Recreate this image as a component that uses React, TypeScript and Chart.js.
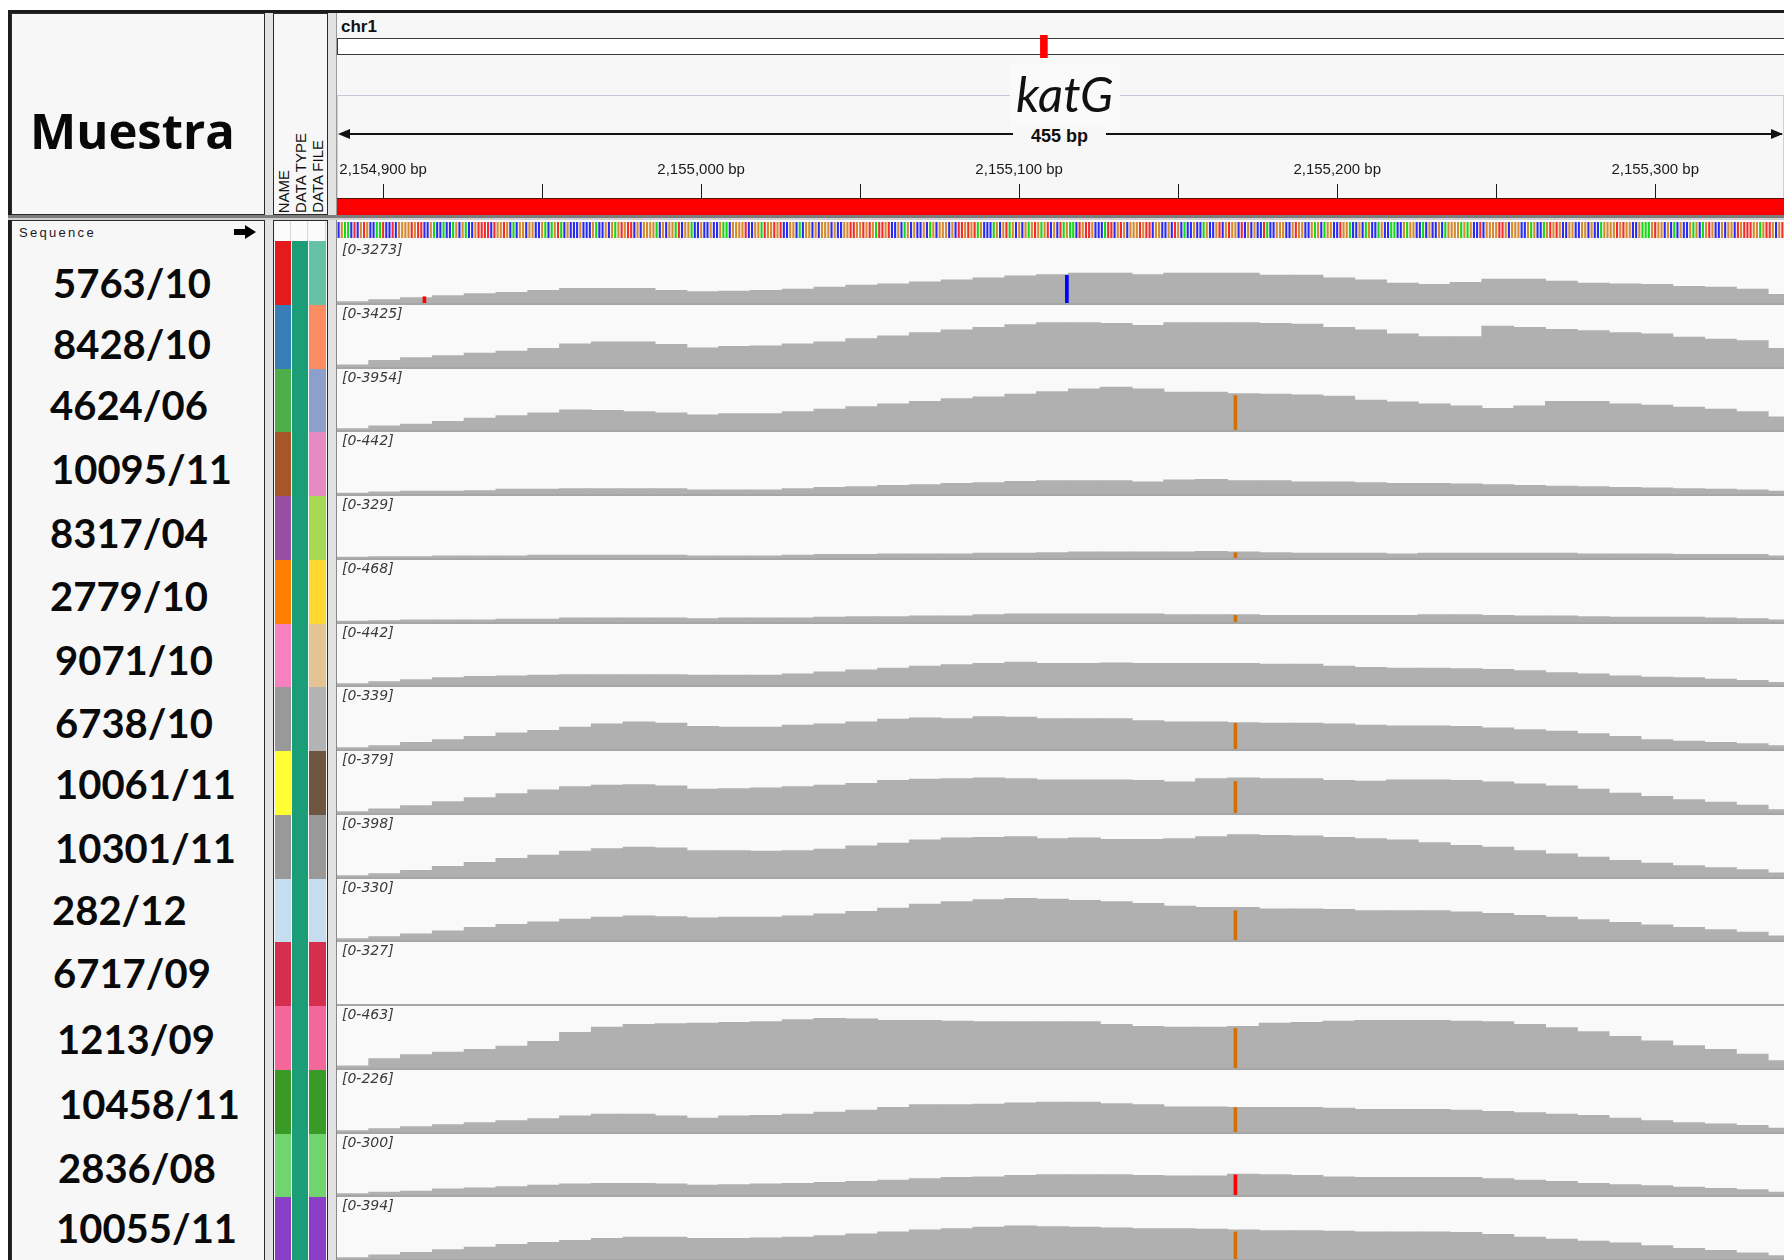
import React, { useEffect, useRef } from 'react';
import { Chart, registerables } from 'chart.js';

Chart.register(...registerables);

// ------------------------------------------------------------------ data
const CHROMOSOME = 'chr1';
const CHR_LENGTH = 4411532;
const GENE_NAME = 'katG';
const GENE_START = 2153889;
const GENE_END = 2156111;
const VIEW_START = 2154885.5;
const VIEW_END = 2155340.5;
const RULER_STEP = 50;
const RULER_LABEL_STEP = 100;

const SEQ_START = 2154886;
const SEQUENCE =
  'CGAACTCGTGCCAATCCTCGGGGTGTTCCGACCACCAGCGACCGTTTTCTGGTGCACGGCGGCCGACAGTACGCCCGCCCGACCGCGAGTGTTCGCGGGGACGCGGATCGGACC' +
  'GCCGCCGAACGGGGTCCGGATGGTGTCCGGCACGGCGCGGGCGCCGGTTGGTGTGATTGTCCGCAGCGCCGCAGCGGGCGCTTGTGTAGCCCAGCGTAGCGCGAGTGAGTCGCT' +
  'AGAACTGTTGCCCATTCGTGCGGGTGTTCGGCCGCTGCACCGCCAGCCGTCGTGGCTCGCGCCTACCGGGCCGTGGCCGAGCAGGCCTGGACCGCAGCCAGCCAACCGAGGCCA' +
  'CGCCGCAGGGGAGAGCCTCGGGGTTGCGGGCCGAGCCAGTGTGCCGGCCGGCGCCAGGGGTGTGGCCGAAAGTGGCGCACGCCGAGCAGTGCCGCGGCTGTTTGGAGTTGCGTT';

const BIN_START = 2154886;
const BIN_SIZE = 10;

const SAMPLES = [
  '5763/10', '8428/10', '4624/06', '10095/11', '8317/04', '2779/10', '9071/10', '6738/10',
  '10061/11', '10301/11', '282/12', '6717/09', '1213/09', '10458/11', '2836/08', '10055/11',
];
const RANGE_MAX = [3273, 3425, 3954, 442, 329, 468, 442, 339, 379, 398, 330, 327, 463, 226, 300, 394];

const COV_5763_10 = [70, 174, 278, 383, 487, 557, 661, 766, 766, 766, 661, 592, 626, 661, 731, 835, 940, 1009, 1114, 1218, 1322, 1427, 1496, 1566, 1566, 1496, 1566, 1566, 1566, 1462, 1462, 1322, 1218, 1044, 974, 1079, 1253, 1253, 1148, 1044, 1009, 974, 870, 835, 731, 452];
const COV_8428_10 = [109, 364, 510, 619, 764, 874, 1019, 1274, 1383, 1383, 1238, 1056, 1128, 1165, 1274, 1383, 1565, 1711, 1893, 2038, 2184, 2330, 2439, 2439, 2402, 2293, 2439, 2439, 2439, 2402, 2366, 2184, 2038, 1820, 1674, 1674, 2257, 2184, 2075, 2002, 1893, 1820, 1638, 1529, 1456, 1019];
const COV_4624_06 = [84, 252, 379, 547, 757, 925, 1094, 1304, 1262, 1178, 1094, 967, 1052, 1052, 1178, 1346, 1514, 1682, 1851, 2019, 2145, 2313, 2482, 2650, 2776, 2650, 2440, 2440, 2355, 2313, 2271, 2187, 1935, 1809, 1682, 1556, 1388, 1556, 1851, 1851, 1682, 1598, 1472, 1346, 1178, 841];
const COV_10095_11 = [5, 14, 19, 19, 24, 33, 33, 38, 38, 38, 38, 28, 28, 28, 38, 47, 52, 61, 66, 75, 80, 89, 94, 94, 94, 85, 99, 103, 94, 94, 85, 85, 80, 75, 75, 71, 66, 61, 56, 52, 47, 42, 38, 33, 28, 19];
const COV_8317_04 = [4, 7, 7, 11, 11, 11, 14, 14, 14, 14, 14, 11, 11, 11, 14, 18, 18, 21, 21, 21, 25, 25, 28, 32, 32, 32, 32, 35, 32, 28, 25, 25, 25, 21, 25, 25, 25, 25, 25, 21, 21, 21, 18, 18, 18, 11];
const COV_2779_10 = [5, 10, 15, 15, 15, 20, 20, 30, 30, 30, 30, 25, 30, 30, 30, 35, 40, 40, 45, 45, 55, 60, 60, 60, 60, 60, 55, 55, 55, 50, 50, 50, 50, 50, 55, 55, 50, 45, 45, 40, 35, 35, 35, 30, 25, 15];
const COV_9071_10 = [9, 24, 38, 52, 61, 66, 71, 75, 75, 75, 75, 71, 71, 71, 80, 94, 108, 122, 136, 146, 155, 165, 155, 155, 160, 155, 155, 155, 155, 150, 150, 136, 127, 122, 122, 118, 113, 103, 89, 80, 66, 56, 52, 42, 33, 19];
const COV_6738_10 = [7, 18, 36, 50, 69, 87, 101, 119, 137, 148, 141, 123, 119, 119, 130, 137, 148, 162, 169, 166, 177, 173, 166, 166, 166, 155, 148, 148, 144, 141, 141, 137, 130, 126, 126, 123, 115, 105, 97, 83, 69, 50, 43, 36, 29, 18];
const COV_10061_11 = [8, 24, 44, 69, 93, 117, 141, 161, 169, 173, 165, 145, 149, 153, 161, 169, 181, 198, 206, 210, 214, 210, 202, 202, 202, 198, 190, 210, 214, 210, 210, 198, 194, 202, 202, 198, 190, 177, 165, 145, 121, 101, 81, 65, 48, 20];
const COV_10301_11 = [8, 21, 42, 68, 93, 119, 140, 165, 182, 191, 186, 169, 169, 165, 169, 178, 199, 216, 237, 250, 254, 258, 246, 250, 241, 241, 246, 258, 271, 267, 263, 254, 246, 237, 220, 203, 191, 169, 148, 127, 106, 89, 72, 59, 47, 25];
const COV_282_12 = [7, 18, 32, 49, 67, 84, 98, 112, 123, 130, 126, 119, 123, 123, 130, 140, 154, 172, 193, 207, 218, 225, 221, 214, 207, 197, 183, 176, 176, 168, 168, 165, 158, 158, 158, 151, 144, 133, 123, 109, 95, 81, 67, 56, 42, 21];
const COV_6717_09: number[] = [];
const COV_1213_09 = [15, 69, 99, 118, 138, 163, 197, 266, 305, 325, 330, 335, 340, 345, 360, 369, 365, 355, 355, 350, 345, 345, 345, 345, 325, 310, 305, 305, 310, 335, 340, 350, 355, 355, 355, 350, 345, 325, 300, 271, 236, 202, 167, 138, 103, 54];
const COV_10458_11 = [5, 12, 19, 26, 34, 41, 48, 58, 65, 65, 58, 50, 58, 60, 65, 72, 79, 89, 99, 99, 101, 106, 108, 108, 103, 99, 91, 91, 89, 89, 89, 87, 82, 82, 82, 79, 75, 70, 65, 60, 50, 41, 34, 29, 24, 14];
const COV_2836_08 = [6, 13, 19, 29, 35, 41, 48, 54, 57, 57, 54, 48, 51, 54, 57, 61, 67, 73, 80, 86, 89, 96, 99, 99, 99, 96, 93, 93, 102, 99, 96, 89, 86, 86, 86, 86, 80, 73, 67, 57, 51, 45, 38, 32, 26, 13];
const COV_10055_11 = [8, 25, 42, 59, 75, 92, 105, 117, 130, 138, 138, 130, 130, 134, 138, 147, 159, 172, 184, 193, 201, 210, 205, 201, 197, 193, 193, 189, 184, 180, 180, 176, 172, 172, 172, 168, 155, 138, 126, 113, 101, 84, 67, 54, 38, 21];

const COVERAGE = [
  COV_5763_10, COV_8428_10, COV_4624_06, COV_10095_11, COV_8317_04, COV_2779_10, COV_9071_10, COV_6738_10,
  COV_10061_11, COV_10301_11, COV_282_12, COV_6717_09, COV_1213_09, COV_10458_11, COV_2836_08, COV_10055_11,
];

const MISMATCH_TRACK = [0, 0, 2, 4, 5, 7, 8, 10, 12, 13, 14, 15];
const MISMATCH_POS = [2154913, 2155115, 2155168, 2155168, 2155168, 2155168, 2155168, 2155168, 2155168, 2155168, 2155168, 2155168];
const MISMATCH_BASE = ['T', 'C', 'G', 'G', 'G', 'G', 'G', 'G', 'G', 'G', 'T', 'G'];
const MISMATCH_COUNT = [330, 1462, 2230, 28, 50, 141, 193, 158, 296, 89, 99, 172];

const ATTR_HEADERS = ['NAME', 'DATA TYPE', 'DATA FILE'];

// ------------------------------------------------------------------ styles / layout
const PAGE_W = 1784;
const PAGE_H = 1260;
const DATA_X = 337;
const DATA_W = PAGE_W - DATA_X;
const TRACK_Y0 = 241;
const TRACK_PITCH = 63.75;
const trackTop = (i: number) => TRACK_Y0 + Math.round(i * TRACK_PITCH);

const SEQ_COLORS: Record<string, string> = { A: '#14d814', C: '#2a2af5', G: '#d6892f', T: '#f52a2a' };
const MISMATCH_COLORS: Record<string, string> = { A: '#00b400', C: '#0000ff', G: '#d17105', T: '#ff0000' };
const COVERAGE_COLOR = '#b0b0b0';

const NAME_COLORS = ['#e41a1c', '#377eb8', '#4daf4a', '#a65628', '#984ea3', '#ff7f00', '#f781bf', '#999999',
  '#ffff33', '#999999', '#c6dcef', '#d62e4e', '#f4679a', '#3a9a26', '#70d46f', '#8b3fc8'];
const TYPE_COLOR = '#1b9e77';
const FILE_COLORS = ['#66c2a5', '#fc8d62', '#8da0cb', '#e78ac3', '#a6d854', '#ffd92f', '#e5c494', '#b3b3b3',
  '#6e5540', '#999999', '#c6dcef', '#d62e4e', '#f4679a', '#3a9a26', '#70d46f', '#8b3fc8'];
const NAME_X = [53, 53, 50, 51, 50, 50, 55, 55, 55, 55, 52, 53, 57, 59, 58, 56];
const NAME_NUDGE = [11, 8, 5, 6, 6, 5, 5, 5, 2, 2, 0, 0, 2, 3, 3, 0];
const ATTR_COL_X = [275, 292, 309];
const ATTR_COL_W = [16, 16, 17];
const ATTR_HEADER_X = [284, 301, 318];

const BASE_OPTS: any = {
  responsive: false,
  animation: false,
  events: [],
  layout: { padding: 0 },
  plugins: { legend: { display: false }, tooltip: { enabled: false }, title: { display: false } },
};

const rangeLabelPlugin = {
  id: 'rangeLabel',
  afterDraw(chart: any) {
    const y = chart.scales.y;
    const { ctx, chartArea } = chart;
    ctx.save();
    ctx.font = 'italic 14px "DejaVu Sans", Verdana, sans-serif';
    ctx.fillStyle = '#3a3a3a';
    ctx.textBaseline = 'top';
    ctx.textAlign = 'left';
    ctx.fillText(`[${y.min}-${y.max}]`, chartArea.left + 5, chartArea.top + 2);
    ctx.restore();
  },
};

function trackConfig(i: number): any {
  const idx = MISMATCH_TRACK.map((t, j) => (t === i ? j : -1)).filter((j) => j >= 0);
  return {
    type: 'bar',
    data: {
      datasets: [
        {
          label: 'mismatch',
          stack: 'cov',
          order: 0,
          data: idx.map((j) => ({ x: MISMATCH_POS[j], y: MISMATCH_COUNT[j] })),
          backgroundColor: idx.map((j) => MISMATCH_COLORS[MISMATCH_BASE[j]]),
          barThickness: 3,
          borderWidth: 0,
        },
        {
          label: SAMPLES[i],
          stack: 'cov',
          order: 1,
          data: COVERAGE[i].map((v, k) => ({ x: BIN_START + k * BIN_SIZE + (BIN_SIZE - 1) / 2, y: v })),
          backgroundColor: COVERAGE_COLOR,
          barThickness: 'flex',
          barPercentage: 1,
          categoryPercentage: 1,
          borderWidth: 0,
          inflateAmount: 0.5,
        },
      ],
    },
    options: {
      ...BASE_OPTS,
      scales: {
        x: { type: 'linear', min: VIEW_START, max: VIEW_END, display: false, offset: false },
        y: { type: 'linear', min: 0, max: RANGE_MAX[i], display: false, stacked: false },
      },
    },
    plugins: [rangeLabelPlugin],
  };
}

function sequenceConfig(): any {
  const bases = SEQUENCE.split('');
  return {
    type: 'bar',
    data: {
      datasets: [
        {
          label: 'Sequence',
          data: bases.map((_, i) => ({ x: SEQ_START + i, y: 1 })),
          backgroundColor: bases.map((b) => SEQ_COLORS[b]),
          barPercentage: 0.66,
          categoryPercentage: 1,
          borderWidth: 0,
        },
      ],
    },
    options: {
      ...BASE_OPTS,
      scales: {
        x: { type: 'linear', min: VIEW_START, max: VIEW_END, display: false, offset: false },
        y: { min: 0, max: 1, display: false },
      },
    },
  };
}

function rulerConfig(): any {
  return {
    type: 'bar',
    data: {
      labels: [GENE_NAME],
      datasets: [
        {
          label: GENE_NAME,
          data: [[GENE_START, GENE_END]],
          backgroundColor: '#ff0000',
          borderColor: '#1a1a1a',
          borderWidth: 1,
          borderSkipped: false,
          barPercentage: 1,
          categoryPercentage: 1,
        },
      ],
    },
    options: {
      ...BASE_OPTS,
      indexAxis: 'y',
      layout: { padding: { left: 100, right: 100, top: 0, bottom: 0 } },
      scales: {
        x: {
          type: 'linear',
          position: 'top',
          min: VIEW_START,
          max: VIEW_END,
          offset: false,
          border: { display: false },
          grid: { display: true, drawOnChartArea: false, drawTicks: true, tickLength: 14, color: '#1a1a1a', lineWidth: 1 },
          ticks: {
            stepSize: RULER_STEP,
            includeBounds: false,
            autoSkip: false,
            maxRotation: 0,
            minRotation: 0,
            padding: 5,
            color: '#1a1a1a',
            font: { family: '"Liberation Sans", Arial, sans-serif', size: 15 },
            callback: (v: any) => (Number(v) % RULER_LABEL_STEP === 0 ? `${Number(v).toLocaleString('en-US')} bp` : ''),
          },
        },
        y: { type: 'category', display: false },
      },
    },
  };
}

function ideogramConfig(): any {
  return {
    type: 'bar',
    data: {
      datasets: [
        {
          label: CHROMOSOME,
          data: [{ x: (VIEW_START + VIEW_END) / 2, y: 1 }],
          backgroundColor: '#ff0000',
          barThickness: 7,
          borderWidth: 0,
        },
      ],
    },
    options: {
      ...BASE_OPTS,
      scales: {
        x: { type: 'linear', min: 0, max: CHR_LENGTH, display: false, offset: false },
        y: { min: 0, max: 1, display: false },
      },
    },
  };
}

function ChartCanvas({ width, height, makeConfig, style }: any) {
  const ref = useRef<HTMLCanvasElement | null>(null);
  useEffect(() => {
    if (!ref.current) return;
    const chart = new Chart(ref.current, makeConfig());
    return () => chart.destroy();
  }, []);
  return <canvas ref={ref} width={width} height={height} style={{ display: 'block', width, height, ...(style || {}) }} />;
}

const abs = (l: number, t: number, w: number, h: number, extra: any = {}): any => ({
  position: 'absolute', left: l, top: t, width: w, height: h, boxSizing: 'border-box', ...extra,
});

export default function App() {
  const span = Math.round(VIEW_END - VIEW_START);
  return (
    <div style={{ position: 'absolute', left: 0, top: 0, width: PAGE_W, height: PAGE_H, overflow: 'hidden', background: '#ffffff', fontFamily: '"Liberation Sans", Arial, sans-serif' }}>
      {/* window frame */}
      <div style={abs(8, 10, PAGE_W - 8, PAGE_H - 10, { background: '#e2e2e2', borderTop: '3px solid #1c1c1c', borderLeft: '3px solid #1c1c1c' })} />

      {/* ---------- header row ---------- */}
      <div style={abs(11, 13, 254, 202, { background: '#f7f7f7', border: '1px solid #2b2b2b' })} />
      <div style={{ position: 'absolute', left: 30, top: 106, font: 'bold 49px "Open Sans", Lato, sans-serif', lineHeight: '49px', color: '#080808', whiteSpace: 'nowrap' }}>Muestra</div>

      <div style={abs(273, 13, 55, 202, { background: '#f7f7f7', border: '1px solid #2b2b2b' })} />
      {ATTR_HEADERS.map((h, j) => (
        <div key={h} style={{ position: 'absolute', left: ATTR_HEADER_X[j] - 8, top: 213 - 120, width: 16, height: 120, display: 'flex', alignItems: 'flex-end', justifyContent: 'center' }}>
          <span style={{ writingMode: 'vertical-rl', transform: 'rotate(180deg)', font: '15px "Liberation Sans", Arial, sans-serif', lineHeight: '16px', color: '#111', whiteSpace: 'nowrap' }}>{h}</span>
        </div>
      ))}

      <div style={abs(336, 13, PAGE_W - 336, 202, { background: '#f7f7f7', borderLeft: '1px solid #9a9a9a' })} />
      <div style={{ position: 'absolute', left: 341, top: 17, font: 'bold 17px "Liberation Sans", Arial, sans-serif', color: '#111' }}>{CHROMOSOME}</div>
      <div style={abs(DATA_X, 38, DATA_W + 20, 17, { background: '#ffffff', border: '1px solid #3a3a3a' })} />
      <div style={abs(DATA_X, 35, DATA_W, 23)}>
        <ChartCanvas width={DATA_W} height={23} makeConfig={ideogramConfig} />
      </div>

      <div style={abs(DATA_X, 95, DATA_W, 104, { borderTop: '1px solid #c6c6d4', borderLeft: '1px solid #d0d0d8', borderRight: '1px solid #d0d0d8' })} />
      <div style={abs(1010, 63, 110, 67, { background: '#fafafa' })} />
      <div style={{ position: 'absolute', left: 1016, top: 69, font: 'italic 49px Lato, "Open Sans", sans-serif', lineHeight: '49px', color: '#111', whiteSpace: 'nowrap' }}>{GENE_NAME}</div>

      <div style={abs(341, 133, DATA_W - 6, 2, { background: '#111' })} />
      <div style={abs(338, 129, 12, 10, { width: 0, height: 0, borderTop: '5px solid transparent', borderBottom: '5px solid transparent', borderRight: '12px solid #111' })} />
      <div style={abs(PAGE_W - 13, 129, 12, 10, { width: 0, height: 0, borderTop: '5px solid transparent', borderBottom: '5px solid transparent', borderLeft: '12px solid #111' })} />
      <div style={abs(1013, 125, 93, 22, { background: '#f7f7f7', textAlign: 'center', font: 'bold 18px "Liberation Sans", Arial, sans-serif', lineHeight: '22px', color: '#111' })}>{`${span} bp`}</div>

      <div style={abs(DATA_X, 156, DATA_W, 59, { overflow: 'hidden' })}>
        <ChartCanvas width={DATA_W + 200} height={92} makeConfig={rulerConfig} style={{ position: 'absolute', left: -100, top: 0 }} />
      </div>

      {/* divider */}
      <div style={abs(8, 215, PAGE_W - 8, 3, { background: '#7c7c7c' })} />
      <div style={abs(8, 218, PAGE_W - 8, 2, { background: '#cfcfcf' })} />

      {/* ---------- lower row ---------- */}
      <div style={abs(11, 220, 254, PAGE_H - 215, { background: '#f7f7f7', border: '1px solid #2b2b2b' })} />
      <div style={{ position: 'absolute', left: 19, top: 225, font: '13px "Liberation Sans", Arial, sans-serif', letterSpacing: '2.3px', lineHeight: '16px', color: '#1a1a1a' }}>Sequence</div>
      <div style={abs(234, 229, 12, 6, { background: '#000' })} />
      <div style={abs(245, 225, 11, 14, { width: 0, height: 0, borderTop: '7px solid transparent', borderBottom: '7px solid transparent', borderLeft: '11px solid #000' })} />
      {SAMPLES.map((s, i) => {
        const cy = (trackTop(i) + trackTop(i + 1)) / 2 + NAME_NUDGE[i];
        return (
          <div key={s} style={{ position: 'absolute', left: NAME_X[i], top: cy - 21, font: 'bold 40px Lato, "Open Sans", sans-serif', lineHeight: '40px', color: '#0a0a0a', whiteSpace: 'nowrap' }}>{s}</div>
        );
      })}

      <div style={abs(273, 220, 55, PAGE_H - 215, { background: '#f7f7f7', border: '1px solid #2b2b2b' })} />
      {ATTR_COL_X.map((x, j) => (
        <div key={'seqcell' + j} style={abs(x, 221, ATTR_COL_W[j], 20, { background: '#fbfbfb', borderRight: '1px solid #d8d8d8' })} />
      ))}
      {SAMPLES.map((s, i) => {
        const top = trackTop(i);
        const h = trackTop(i + 1) - top;
        return (
          <React.Fragment key={'attr' + s}>
            <div style={abs(ATTR_COL_X[0], top, ATTR_COL_W[0], h, { background: NAME_COLORS[i] })} />
            <div style={abs(ATTR_COL_X[1], top, ATTR_COL_W[1], h, { background: TYPE_COLOR })} />
            <div style={abs(ATTR_COL_X[2], top, ATTR_COL_W[2], h, { background: FILE_COLORS[i] })} />
          </React.Fragment>
        );
      })}

      <div style={abs(336, 220, PAGE_W - 336, PAGE_H - 215, { background: '#f9f9f9', borderLeft: '1px solid #8a8a8a' })} />
      <div style={abs(DATA_X, 222, DATA_W, 16)}>
        <ChartCanvas width={DATA_W} height={16} makeConfig={sequenceConfig} />
      </div>
      {SAMPLES.map((s, i) => {
        const top = trackTop(i);
        const h = trackTop(i + 1) - top;
        return (
          <div key={'trk' + s} style={abs(DATA_X, top, DATA_W, h, { borderBottom: '2px solid #a6a6a6' })}>
            <ChartCanvas width={DATA_W} height={h - 2} makeConfig={() => trackConfig(i)} />
          </div>
        );
      })}
    </div>
  );
}
